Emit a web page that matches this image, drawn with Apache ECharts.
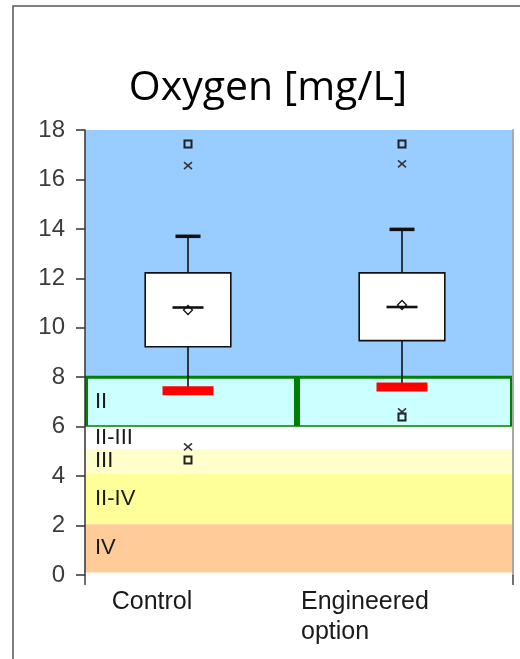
<!DOCTYPE html>
<html>
<head>
<meta charset="utf-8">
<script src="https://cdn.jsdelivr.net/npm/echarts@6/dist/echarts.min.js"></script>
<style>
  html, body { margin: 0; padding: 0; background: #fff; }
  #chart { width: 520px; height: 659px; }
</style>
</head>
<body>
<div id="chart"></div>
<script>
// Dissolved oxygen per option, box-and-whisker summary
const categories = ['Control', 'Engineered\noption'];
const whiskerLow = [7.45, 7.6];      // drawn as red bar
const q1 = [9.23, 9.48];
const median = [10.82, 10.84];
const q3 = [12.22, 12.22];
const whiskerHigh = [13.7, 13.98];
const mean = [10.72, 10.92];
const maxPoint = [17.43, 17.43];     // squares
const upperCross = [16.56, 16.63];   // crosses
const lowerCross = [5.18, 6.6];
const minPoint = [4.65, 6.39];

// Water-quality class bands on the oxygen scale
const bandLow = [8, 6, 5.1, 4.1, 2.05, 0.1];
const bandHigh = [18, 8, 6, 5.1, 4.1, 2.05];
const bandLabel = ['', 'II', 'II-III', 'III', 'II-IV', 'IV'];
const bandColors = ['#99CCFF', '#CCFFFF', '#FFFFFF', '#FFFFCC', '#FFFF99', '#FFCC99'];

// y-axis ticks
const yMin = 0, yMax = 18, yStep = 2;

const chart = echarts.init(document.getElementById('chart'), null, { renderer: 'canvas' });

const boxData = categories.map((c, i) => [
  i, whiskerLow[i], q1[i], median[i], q3[i], whiskerHigh[i], mean[i],
  maxPoint[i], upperCross[i], lowerCross[i], minPoint[i]
]);
const bandData = bandLow.map((lo, i) => [lo, bandHigh[i], i]);

function renderBand(params, api) {
  const lo = api.value(0), hi = api.value(1), idx = api.value(2);
  const pTL = api.coord([0, hi]);
  const pBR = api.coord([2, lo]);
  const children = [];
  if (idx === 1) {
    const pMid = api.coord([1, lo]);
    [[pTL[0], pMid[0] - 2], [pMid[0] - 2, pBR[0]]].forEach(([x0, x1]) => {
      children.push({
        type: 'rect',
        shape: { x: x0 + 1.5, y: pTL[1], width: x1 - x0 - 3, height: pBR[1] - pTL[1] },
        style: { fill: bandColors[idx], stroke: '#008000', lineWidth: 3 }
      });
    });
  } else {
    children.push({
      type: 'rect',
      shape: { x: pTL[0], y: pTL[1], width: pBR[0] - pTL[0], height: pBR[1] - pTL[1] },
      style: { fill: bandColors[idx] }
    });
  }
  if (bandLabel[idx]) {
    children.push({
      type: 'text',
      z2: 5,
      style: {
        text: bandLabel[idx],
        x: pTL[0] + 10,
        y: (pTL[1] + pBR[1]) / 2,
        fill: '#1a1a1a',
        fontSize: 22,
        fontFamily: 'Liberation Sans',
        align: 'left', verticalAlign: 'middle',
        textAlign: 'left', textVerticalAlign: 'middle'
      }
    });
  }
  return { type: 'group', children };
}

function renderBox(params, api) {
  const i = api.value(0);
  const y = v => api.coord([i, v])[1];
  const xc = api.coord([i, 0])[0] - 4;
  const bw = api.size([1, 0])[0] * 0.4;
  const lo = api.value(1), b1 = api.value(2), med = api.value(3), b3 = api.value(4),
        hi = api.value(5), avg = api.value(6), mx = api.value(7), uc = api.value(8),
        lc = api.value(9), mn = api.value(10);
  const ink = '#111';
  const children = [];
  // whiskers
  children.push({ type: 'line', shape: { x1: xc, y1: y(b3), x2: xc, y2: y(hi) }, style: { stroke: ink, lineWidth: 1.6 } });
  children.push({ type: 'line', shape: { x1: xc, y1: y(b1), x2: xc, y2: y(lo) }, style: { stroke: ink, lineWidth: 1.6 } });
  // box
  children.push({ type: 'rect', shape: { x: xc - bw / 2, y: y(b3), width: bw, height: y(b1) - y(b3) },
    style: { fill: '#fff', stroke: ink, lineWidth: 1.6 } });
  // upper cap
  children.push({ type: 'rect', shape: { x: xc - 12.5, y: y(hi) - 1.75, width: 25, height: 3.5 }, style: { fill: ink } });
  // lower end, red bar
  children.push({ type: 'rect', shape: { x: xc - 25.5, y: y(lo) - 4.5, width: 51, height: 9 }, style: { fill: '#FF0000' } });
  // mean diamond
  const ym = y(avg);
  children.push({ type: 'polygon', shape: { points: [[xc, ym - 4.5], [xc + 4.5, ym], [xc, ym + 4.5], [xc - 4.5, ym]] },
    style: { fill: '#fff', stroke: ink, lineWidth: 1.3 } });
  // median
  children.push({ type: 'rect', shape: { x: xc - 15.5, y: y(med) - 1.3, width: 31, height: 2.6 }, style: { fill: ink } });
  // squares (extremes)
  [mx, mn].forEach(v => {
    children.push({ type: 'rect', shape: { x: xc - 3.5, y: y(v) - 3.5, width: 7, height: 7 },
      style: { fill: 'none', stroke: '#222', lineWidth: 2 } });
  });
  // crosses
  [uc, lc].forEach(v => {
    const yc = y(v);
    children.push({ type: 'line', shape: { x1: xc - 4, y1: yc - 3.5, x2: xc + 4, y2: yc + 3.5 }, style: { stroke: '#333', lineWidth: 1.5 } });
    children.push({ type: 'line', shape: { x1: xc - 4, y1: yc + 3.5, x2: xc + 4, y2: yc - 3.5 }, style: { stroke: '#333', lineWidth: 1.5 } });
  });
  return { type: 'group', children };
}

const option = {
  animation: false,
  backgroundColor: '#fff',
  graphic: [
    {
      type: 'rect', z: 0, silent: true,
      shape: { x: 13, y: 6, width: 620, height: 720 },
      style: { fill: 'none', stroke: '#555', lineWidth: 1.5 }
    },
    {
      type: 'text', z: 10,
      x: 268, y: 88,
      style: {
        text: 'Oxygen [mg/L]',
        font: '41px "Open Sans"',
        fill: '#000',
        align: 'center', verticalAlign: 'middle',
        textAlign: 'center', textVerticalAlign: 'middle'
      }
    }
  ],
  grid: { left: 85, right: 7, top: 130, bottom: 84, containLabel: false },
  xAxis: [
    {
      type: 'category',
      data: categories,
      boundaryGap: true,
      axisLine: { show: false },
      axisTick: { show: false },
      splitLine: { show: false },
      axisLabel: {
        interval: 0,
        margin: 12,
        color: '#1a1a1a',
        fontSize: 25,
        fontFamily: 'Liberation Sans',
        lineHeight: 30,
        formatter: v => v.indexOf('\n') >= 0
          ? v.split('\n').map(s => '{e|' + s + '}').join('\n')
          : '{c|' + v + '}',
        rich: {
          c: { fontSize: 25, fontFamily: 'Liberation Sans', color: '#1a1a1a', lineHeight: 30, padding: [0, 80, 0, 0] },
          e: { fontSize: 25, fontFamily: 'Liberation Sans', color: '#1a1a1a', lineHeight: 30, width: 134, align: 'left', padding: [0, 76, 0, 0] }
        }
      }
    },
    {
      type: 'value',
      min: 0, max: 2, interval: 2,
      position: 'bottom',
      axisLine: { show: false },
      axisTick: { show: true, length: 10, lineStyle: { color: '#444', width: 1.5 } },
      axisLabel: { show: false },
      splitLine: { show: false },
      z: 10
    }
  ],
  yAxis: [
    {
      type: 'value',
      min: yMin, max: yMax, interval: yStep,
      position: 'left',
      z: 10,
      axisLine: { show: true, lineStyle: { color: '#333', width: 1.5 } },
      axisTick: { show: true, length: 9, lineStyle: { color: '#333', width: 1.5 } },
      splitLine: { show: false },
      axisLabel: { color: '#3c3c3c', fontSize: 24, fontFamily: 'Liberation Sans', margin: 20 }
    },
    {
      type: 'value',
      min: yMin, max: yMax, interval: yStep,
      position: 'right',
      z: 10,
      axisLine: { show: true, lineStyle: { color: '#a8a8a8', width: 2 } },
      axisTick: { show: false },
      splitLine: { show: false },
      axisLabel: { show: false }
    }
  ],
  series: [
    {
      type: 'custom',
      name: 'bands',
      xAxisIndex: 1, yAxisIndex: 0,
      silent: true,
      z: 1,
      renderItem: renderBand,
      data: bandData
    },
    {
      type: 'custom',
      name: 'oxygen',
      xAxisIndex: 0, yAxisIndex: 0,
      z: 3,
      renderItem: renderBox,
      encode: { x: 0, y: [1, 2, 3, 4, 5] },
      data: boxData
    }
  ]
};

chart.setOption(option);
</script>
</body>
</html>
